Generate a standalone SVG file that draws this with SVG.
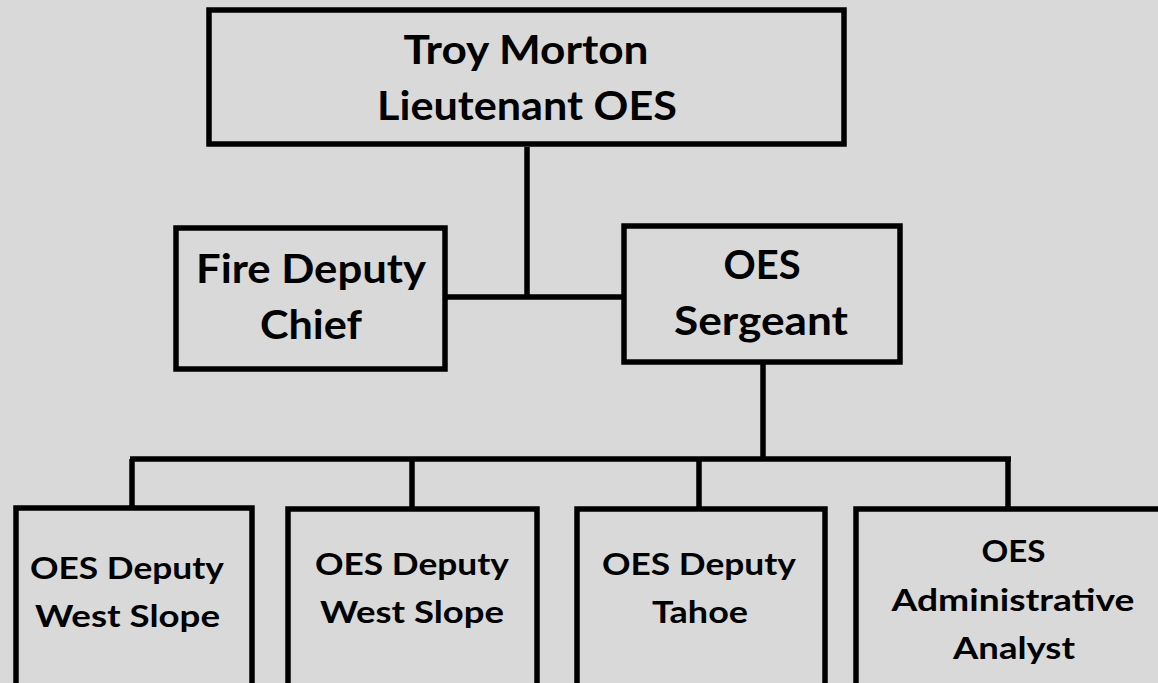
<svg xmlns="http://www.w3.org/2000/svg" width="1158" height="683" viewBox="0 0 1158 683">
<style>
.box{fill:#d9d9d9;stroke:#000;stroke-width:5.5}
.ln{stroke:#000;stroke-width:5.5;fill:none}
.t{font-family:Lato,"Open Sans","Liberation Sans",sans-serif;font-weight:bold;fill:#000;text-anchor:middle}
.big{font-size:41px}
.sm{font-size:31px}
</style>
<rect width="1158" height="683" fill="#d9d9d9"/>
<g id="connectors">
<path class="ln" d="M527 147V297M446 297H624M763 364V459M130 459H1011M132 459V507M412 459V507M699 459V507M1008 459V507"/>
</g>
<g id="troy">
<rect class="box" x="209" y="10" width="635" height="134"/>
<text class="t big" x="526" y="64" textLength="245" lengthAdjust="spacingAndGlyphs">Troy Morton</text>
<text class="t big" x="527" y="120" textLength="300" lengthAdjust="spacingAndGlyphs">Lieutenant OES</text>
</g>
<g id="fire">
<rect class="box" x="176" y="228" width="269" height="141"/>
<text class="t big" x="311" y="283" textLength="230" lengthAdjust="spacingAndGlyphs">Fire Deputy</text>
<text class="t big" x="311" y="339" textLength="102" lengthAdjust="spacingAndGlyphs">Chief</text>
</g>
<g id="sergeant">
<rect class="box" x="624" y="226" width="276" height="136"/>
<text class="t big" x="762" y="279" textLength="77" lengthAdjust="spacingAndGlyphs">OES</text>
<text class="t big" x="761" y="335" textLength="174" lengthAdjust="spacingAndGlyphs">Sergeant</text>
</g>
<g id="ws1">
<rect class="box" x="16" y="508" width="236" height="190"/>
<text class="t sm" x="127" y="579" textLength="194" lengthAdjust="spacingAndGlyphs">OES Deputy</text>
<text class="t sm" x="127.5" y="627" textLength="185" lengthAdjust="spacingAndGlyphs">West Slope</text>
</g>
<g id="ws2">
<rect class="box" x="288" y="509" width="249" height="190"/>
<text class="t sm" x="412" y="575" textLength="194" lengthAdjust="spacingAndGlyphs">OES Deputy</text>
<text class="t sm" x="412" y="623" textLength="184" lengthAdjust="spacingAndGlyphs">West Slope</text>
</g>
<g id="tahoe">
<rect class="box" x="577" y="509" width="248" height="190"/>
<text class="t sm" x="699" y="575" textLength="194" lengthAdjust="spacingAndGlyphs">OES Deputy</text>
<text class="t sm" x="700" y="623" textLength="96" lengthAdjust="spacingAndGlyphs">Tahoe</text>
</g>
<g id="analyst">
<rect class="box" x="856" y="509" width="320" height="190"/>
<text class="t sm" x="1013.5" y="562" textLength="64" lengthAdjust="spacingAndGlyphs">OES</text>
<text class="t sm" x="1013" y="611" textLength="243" lengthAdjust="spacingAndGlyphs">Administrative</text>
<text class="t sm" x="1014" y="659" textLength="122" lengthAdjust="spacingAndGlyphs">Analyst</text>
</g>
</svg>
